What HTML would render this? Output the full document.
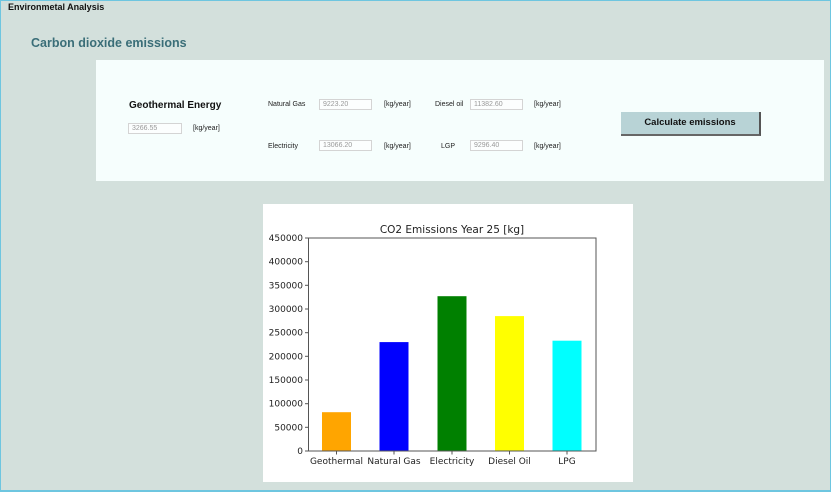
<!DOCTYPE html>
<html><head><meta charset="utf-8"><style>
*{margin:0;padding:0;box-sizing:border-box}
body{width:831px;height:492px;overflow:hidden;background:#d3e0dc;font-family:"Liberation Sans",sans-serif;position:relative}
.frame{position:absolute;left:0;top:0;width:831px;height:492px;border:1px solid #6ec6e0;border-bottom:2px solid #6ec6e0}
.a{position:absolute;white-space:nowrap}
.inp{position:absolute;height:11px;border:1px solid #d4d4d4;background:#fcfefe;font-size:7px;color:#999;padding-left:3px;line-height:9px}
.lbl{font-size:7px;color:#222}
</style></head><body>
<div class="frame"></div>
<div class="a" style="left:8px;top:2px;font-size:9px;font-weight:bold;color:#111">Environmetal Analysis</div>
<div class="a" style="left:31px;top:36px;font-size:12.5px;font-weight:bold;color:#3a6e78">Carbon dioxide emissions</div>
<div class="a" style="left:96px;top:60px;width:728px;height:121px;background:#f6fefd"></div>
<div class="a" style="left:129px;top:100px;font-size:10px;font-weight:bold;color:#111">Geothermal Energy</div>
<div class="inp" style="left:128px;top:123px;width:54px">3266.55</div>
<div class="a lbl" style="left:193px;top:125px">[kg/year]</div>
<div class="a lbl" style="left:268px;top:101px">Natural Gas</div>
<div class="inp" style="left:319px;top:99px;width:53px">9223.20</div>
<div class="a lbl" style="left:384px;top:101px">[kg/year]</div>
<div class="a lbl" style="left:268px;top:143px">Electricity</div>
<div class="inp" style="left:319px;top:140px;width:53px">13066.20</div>
<div class="a lbl" style="left:384px;top:143px">[kg/year]</div>
<div class="a lbl" style="left:435px;top:101px">Diesel oil</div>
<div class="inp" style="left:470px;top:99px;width:53px">11382.60</div>
<div class="a lbl" style="left:534px;top:101px">[kg/year]</div>
<div class="a lbl" style="left:441px;top:143px">LGP</div>
<div class="inp" style="left:470px;top:140px;width:53px">9296.40</div>
<div class="a lbl" style="left:534px;top:143px">[kg/year]</div>
<div class="a" style="left:621px;top:112px;width:140px;height:24px;background:#b8d3d6;border-right:2px solid #555;border-bottom:2px solid #666;font-size:9.5px;font-weight:bold;text-align:center;line-height:22px;color:#111">Calculate emissions</div>
<div class="a" style="left:263px;top:204px;width:370px;height:278px;background:#fff"></div>
<svg class="a" style="left:0;top:0" width="831" height="492" font-family="DejaVu Sans, sans-serif" font-size="9" fill="#222">
<text x="452" y="233" text-anchor="middle" font-size="10.5">CO2 Emissions Year 25 [kg]</text>
<rect x="322" y="412.2" width="29" height="38.8" fill="#ffa500"/>
<rect x="379.5" y="342.1" width="29" height="108.9" fill="#0000ff"/>
<rect x="437.5" y="296.2" width="29" height="154.8" fill="#008000"/>
<rect x="495" y="316.1" width="29" height="134.9" fill="#ffff00"/>
<rect x="552.5" y="340.7" width="29" height="110.3" fill="#00ffff"/>
<rect x="308.5" y="238" width="287.5" height="213" fill="none" stroke="#555" stroke-width="1"/>
<g stroke="#555">
<line x1="305" x2="308.5" y1="451" y2="451"/><line x1="305" x2="308.5" y1="427.3" y2="427.3"/><line x1="305" x2="308.5" y1="403.7" y2="403.7"/><line x1="305" x2="308.5" y1="380" y2="380"/><line x1="305" x2="308.5" y1="356.3" y2="356.3"/><line x1="305" x2="308.5" y1="332.7" y2="332.7"/><line x1="305" x2="308.5" y1="309" y2="309"/><line x1="305" x2="308.5" y1="285.3" y2="285.3"/><line x1="305" x2="308.5" y1="261.7" y2="261.7"/><line x1="305" x2="308.5" y1="238" y2="238"/>
<line x1="336.5" x2="336.5" y1="451" y2="454.5"/><line x1="394" x2="394" y1="451" y2="454.5"/><line x1="452" x2="452" y1="451" y2="454.5"/><line x1="509.5" x2="509.5" y1="451" y2="454.5"/><line x1="567" x2="567" y1="451" y2="454.5"/>
</g>
<g text-anchor="end">
<text x="303" y="454">0</text><text x="303" y="430.3">50000</text><text x="303" y="406.7">100000</text><text x="303" y="383">150000</text><text x="303" y="359.3">200000</text><text x="303" y="335.7">250000</text><text x="303" y="312">300000</text><text x="303" y="288.3">350000</text><text x="303" y="264.7">400000</text><text x="303" y="241">450000</text>
</g>
<g text-anchor="middle">
<text x="336.5" y="464">Geothermal</text><text x="394" y="464">Natural Gas</text><text x="452" y="464">Electricity</text><text x="509.5" y="464">Diesel Oil</text><text x="567" y="464">LPG</text>
</g>
</svg>
</body></html>
